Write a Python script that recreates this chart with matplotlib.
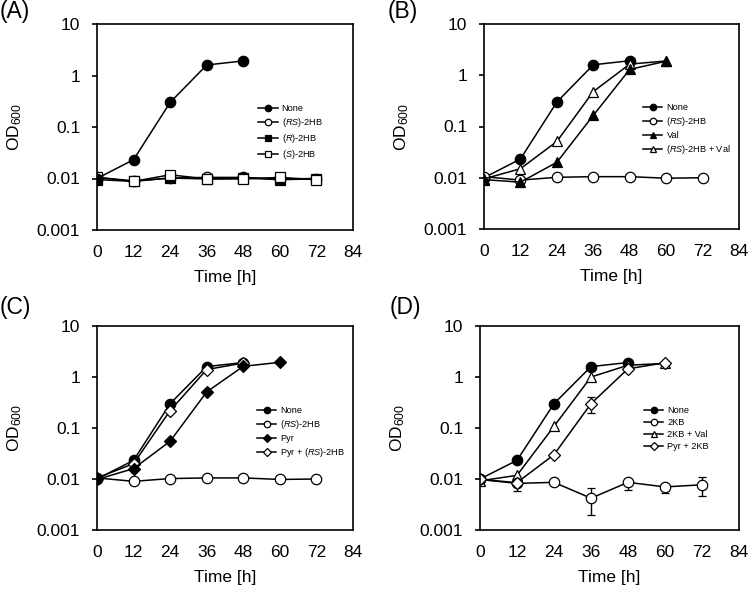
import numpy as np
import matplotlib
matplotlib.use('Agg')
import matplotlib.pyplot as plt
from matplotlib.ticker import FixedLocator, FixedFormatter, NullLocator

plt.rcParams['font.family'] = ['Liberation Sans', 'DejaVu Sans']
plt.rcParams['mathtext.fontset'] = 'custom'
plt.rcParams['mathtext.rm'] = 'Liberation Sans'
plt.rcParams['mathtext.it'] = 'Liberation Sans:italic'

# idopontok (h)
t = [0, 12, 24, 36, 48, 60, 72]

# kozos gorbek
none = [0.0100, 0.0232, 0.300, 1.60, 1.92]
rs2hb = [0.0105, 0.0090, 0.0102, 0.0105, 0.0105, 0.0098, 0.0100]

# (A)
r2hb = [0.0095, 0.0088, 0.0102, 0.0098, 0.0102, 0.0095, 0.0098]
s2hb = [0.0105, 0.0088, 0.0118, 0.0098, 0.0098, 0.0105, 0.0095]

# (B)
val = [0.0092, 0.0082, 0.0200, 0.165, 1.30, 1.88]
rs2hb_val = [0.0095, 0.0150, 0.0510, 0.480, 1.65, 1.90]

# (C)
pyr = [0.0098, 0.0160, 0.0550, 0.510, 1.62, 1.94]
pyr_rs2hb = [0.0105, 0.0200, 0.220, 1.40, 1.88]

# (D)
kb2 = [0.0098, 0.0082, 0.0086, 0.0042, 0.0086, 0.0070, 0.0077]
kb2_err_lo = [0.0, 0.0025, 0.0, 0.0022, 0.0024, 0.0018, 0.0030]
kb2_err_hi = [0.0, 0.0, 0.0, 0.0024, 0.0010, 0.0, 0.0031]
kb2_val = [0.0092, 0.0118, 0.108, 1.00, 1.70, 1.85]
pyr_kb2 = [0.0098, 0.0085, 0.0300, 0.300, 1.45, 1.90]
pyr_kb2_err = [0.0, 0.0, 0.0, 0.105, 0.0, 0.0]

W, H = 749, 589
fig = plt.figure(figsize=(W / 100, H / 100), dpi=100)

def px_axes(x0, y0, x1, y1):
    # pixel koordinatakbol tengely
    return fig.add_axes([x0 / W, 1 - y1 / H, (x1 - x0) / W, (y1 - y0) / H])

axA = px_axes(97, 24, 353, 230)
axB = px_axes(484, 24, 739, 229)
axC = px_axes(97, 326, 353, 530)
axD = px_axes(480, 326, 739, 530)

kw = dict(color='black', lw=1.1, markersize=7.5, markeredgecolor='black', markeredgewidth=0.9)
kwd = dict(kw, markersize=6.5)
filled = dict(markerfacecolor='black')
empty = dict(markerfacecolor='white')
ekw = dict(capsize=3, elinewidth=1, capthick=1)

# (A)
axA.plot(t[:5], none, marker='o', label='None', zorder=5, **kw, **filled)
axA.plot(t, rs2hb, marker='o', label='($RS$)-2HB', **kw, **empty)
axA.plot(t, r2hb, marker='s', label='($R$)-2HB', **kw, **filled)
axA.plot(t, s2hb, marker='s', label='($S$)-2HB', **kw, **empty)

# (B)
axB.plot(t[:5], none, marker='o', label='None', **kw, **filled)
axB.plot(t, rs2hb, marker='o', label='($RS$)-2HB', **kw, **empty)
axB.plot(t[:6], val, marker='^', label='Val', zorder=4, **kw, **filled)
axB.plot(t[:6], rs2hb_val, marker='^', label='($RS$)-2HB + Val', zorder=3, **kw, **empty)

# (C)
axC.plot(t[:5], none, marker='o', label='None', **kw, **filled)
axC.plot(t, rs2hb, marker='o', label='($RS$)-2HB', **kw, **empty)
axC.plot(t[:6], pyr, marker='D', label='Pyr', zorder=4, **kwd, **filled)
axC.plot(t[:5], pyr_rs2hb, marker='D', label='Pyr + ($RS$)-2HB', zorder=3, **kwd, **empty)

# (D)
hD = []
hD.append(axD.plot(t[:5], none, marker='o', **kw, **filled)[0])
e = axD.errorbar(t, kb2, yerr=[kb2_err_lo, kb2_err_hi], marker='o', **ekw, **kw, **empty)
hD.append(e[0])
hD.append(axD.plot(t[:6], kb2_val, marker='^', **kw, **empty)[0])
e = axD.errorbar(t[:6], pyr_kb2, yerr=pyr_kb2_err, marker='D', **ekw, **kwd, **empty)
hD.append(e[0])
labD = ['None', '2KB', '2KB + Val', 'Pyr + 2KB']

leg_pos = {axA: (0.630, 0.612), axB: (0.624, 0.615), axC: (0.625, 0.608), axD: (0.633, 0.608)}
for ax in [axA, axB, axC, axD]:
    ax.set_yscale('log')
    ax.set_xlim(0, 84)
    ax.set_ylim(0.001, 10)
    ax.set_xticks(range(0, 85, 12))
    ax.yaxis.set_major_locator(FixedLocator([0.001, 0.01, 0.1, 1, 10]))
    ax.yaxis.set_major_formatter(FixedFormatter(['0.001', '0.01', '0.1', '1', '10']))
    ax.yaxis.set_minor_locator(NullLocator())
    ax.tick_params(axis='x', length=0, labelsize=12.5, pad=11)
    ax.tick_params(axis='y', length=3.5, width=1.2, direction='out', labelsize=12.5, pad=8.5)
    ax.set_xlabel('Time [h]', fontsize=12.5, labelpad=7)
    ax.set_ylabel('OD$_{600}$', fontsize=12.5, labelpad=9)
    for sp in ax.spines.values():
        sp.set_linewidth(1.2)
    if ax is axD:
        handles, labels = hD, labD
    else:
        handles, labels = ax.get_legend_handles_labels()
    ax.legend(handles, labels, loc='upper left', bbox_to_anchor=leg_pos[ax], frameon=False,
              fontsize=6.6, handlelength=2.1, handletextpad=0.45, labelspacing=0.32,
              borderpad=0, borderaxespad=0, markerscale=0.62)

# panel betuk
for lab, (px, py) in zip(['(A)', '(B)', '(C)', '(D)'], [(0, 0), (388, 0), (0, 296), (390, 296)]):
    fig.text(px / W, 1 - py / H, lab, fontsize=16.5, va='top', ha='left')

fig.savefig('out.png', dpi=100)
